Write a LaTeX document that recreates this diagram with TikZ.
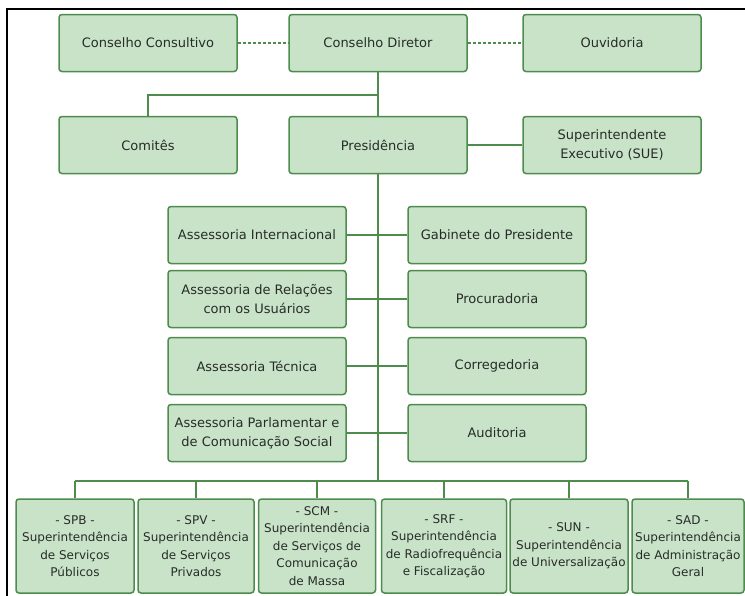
\documentclass[tikz,border=0pt]{standalone}
\usepackage{fontspec}
\setmainfont{DejaVu Sans}
\definecolor{boxfill}{RGB}{201,227,201}
\definecolor{boxline}{RGB}{78,140,78}
\definecolor{txt}{RGB}{40,44,40}
\tikzset{
  x=1pt, y=-1pt,
  orgbox/.style={draw=boxline, fill=boxfill, line width=1.5pt, rounded corners=3pt,
    inner sep=1pt, align=center, text=txt, font=\fontsize{13}{19}\selectfont},
  topbox/.style={orgbox, minimum width=178pt, minimum height=57pt},
  midbox/.style={orgbox, minimum width=178pt, minimum height=57pt},
  subox/.style={orgbox, minimum height=94pt, font=\fontsize{12}{17.5}\selectfont},
  link/.style={draw=boxline, line width=1.5pt},
  dlink/.style={link, line width=1.3pt, dash pattern=on 3pt off 2pt},
}
\begin{document}
\begin{tikzpicture}
\useasboundingbox (0,0) rectangle (745,595);
\fill[white] (0,0) rectangle (745,595);
% frame (top and left)
\draw[black, line width=2.4pt] (7,596) -- (7,9) -- (746,9);

% top rows
\node[topbox] (cc)   at (148,43) {Conselho Consultivo};
\node[topbox] (cd)   at (378,43) {Conselho Diretor};
\node[topbox] (ouv)  at (612,43) {Ouvidoria};
\node[topbox] (com)  at (148,145)  {Comitês};
\node[topbox] (pres) at (378,145)  {Presidência};
\node[topbox] (sue)  at (612,145)  {Superintendente\\Executivo (SUE)};

% middle
\node[midbox] (ai)  at (257,235) {Assessoria Internacional};
\node[midbox] (gp)  at (497,235) {Gabinete do Presidente};
\node[midbox] (ar)  at (257,299) {Assessoria de Relações\\com os Usuários};
\node[midbox] (pr)  at (497,299) {Procuradoria};
\node[midbox] (at)  at (257,366) {Assessoria Técnica};
\node[midbox] (cg)  at (497,366) {Corregedoria};
\node[midbox] (ap)  at (257,433) {Assessoria Parlamentar e\\de Comunicação Social};
\node[midbox] (au)  at (497,433) {Auditoria};

% bottom
\node[subox, minimum width=118pt] (spb) at (75,546)  {- SPB -\\Superintendência\\de Serviços\\Públicos};
\node[subox, minimum width=116pt] (spv) at (196,546) {- SPV -\\Superintendência\\de Serviços\\Privados};
\node[subox, minimum width=117pt] (scm) at (317,546) {- SCM -\\Superintendência\\de Serviços de\\Comunicação\\de Massa};
\node[subox, minimum width=125pt] (srf) at (444,546) {- SRF -\\Superintendência\\de Radiofrequência\\e Fiscalização};
\node[subox, minimum width=118pt] (sun) at (569,546) {- SUN -\\Superintendência\\de Universalização};
\node[subox, minimum width=112pt] (sad) at (688,546) {- SAD -\\Superintendência\\de Administração\\Geral};

% junctions
\coordinate (j1) at (378,95);
\coordinate (bus) at (378,481);

% connectors
\draw[dlink] (cc) -- (cd);
\draw[dlink] (cd) -- (ouv);
\draw[link] (cd.south) -- (pres.north);
\draw[link] (j1) -| (com.north);
\draw[link] (pres) -- (sue);
\draw[link] (pres.south) -- (bus);
\draw[link] (ai) -- (gp);
\draw[link] (ar) -- (pr);
\draw[link] (at) -- (cg);
\draw[link] (ap) -- (au);
\draw[link] (spb.north |- bus) -- (sad.north |- bus);
\foreach \n in {spb,spv,scm,srf,sun,sad}
  \draw[link] (\n.north) -- (\n.north |- bus);
\end{tikzpicture}
\end{document}
